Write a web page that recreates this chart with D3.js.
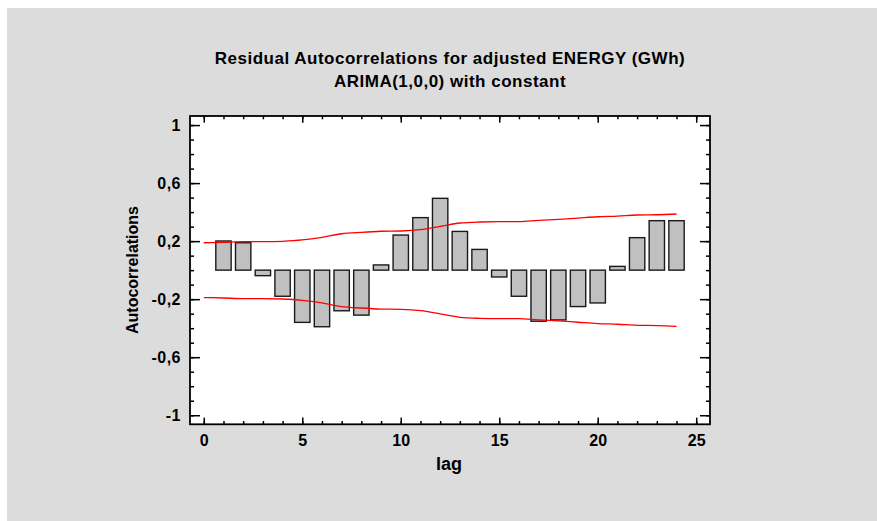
<!DOCTYPE html>
<html><head><meta charset="utf-8">
<script src="https://cdn.jsdelivr.net/npm/d3@7"></script>
<style>
html,body{margin:0;padding:0;background:#fff;}
svg{display:block;}
text{font-family:"Liberation Sans",Arial,sans-serif;font-weight:bold;fill:#000;}
</style></head>
<body>
<script>
const titleLines = ["Residual Autocorrelations for adjusted ENERGY (GWh)", "ARIMA(1,0,0) with constant"];
const xLabel = "lag";
const yLabel = "Autocorrelations";
const lags = [1,2,3,4,5,6,7,8,9,10,11,12,13,14,15,16,17,18,19,20,21,22,23,24];
const acf = [0.201,0.189,-0.038,-0.18,-0.36,-0.39,-0.28,-0.31,0.036,0.242,0.362,0.495,0.267,0.143,-0.047,-0.18,-0.352,-0.343,-0.251,-0.226,0.026,0.224,0.341,0.341];
const limitLags = [0,1,2,3,4,5,6,7,8,9,10,11,12,13,14,15,16,17,18,19,20,21,22,23,24];
const upperLimit = [0.189,0.192,0.196,0.196,0.199,0.208,0.226,0.251,0.261,0.268,0.270,0.279,0.301,0.325,0.332,0.334,0.334,0.343,0.350,0.359,0.368,0.373,0.380,0.382,0.387];
const xMajorTicks = [0,5,10,15,20,25];
const xMinorTicks = d3.range(0,26,1);
const yMajorTicks = [-1,-0.6,-0.2,0.2,0.6,1];
const yMinorTicks = d3.range(-10,11,1).map(d=>d/10);

const W = 877, H = 521;
const L = 190, R = 710, T = 116, B = 424.3;

const svg = d3.select("body").append("svg").attr("width",W).attr("height",H);
svg.append("rect").attr("x",7).attr("y",8).attr("width",W-7).attr("height",H-8).attr("fill","#dcdcdc");
svg.append("rect").attr("x",L).attr("y",T).attr("width",R-L).attr("height",B-T).attr("fill","#fff");

const x = d3.scaleLinear().domain([-0.7,25.7]).range([L,R]);
const y = d3.scaleLinear().domain([-1.0625,1.0625]).range([B,T]);
const fmt = d => String(d).replace(".",",");

// bars
const bw = x(0.78)-x(0);
svg.append("g").selectAll("rect").data(lags).join("rect")
  .attr("x",(d)=>x(d)-bw/2)
  .attr("width",bw)
  .attr("y",(d,i)=>y(Math.max(0,acf[i])))
  .attr("height",(d,i)=>Math.abs(y(acf[i])-y(0)))
  .attr("fill","#c0c0c0").attr("stroke","#1a1a1a").attr("stroke-width",1.4);

// limit lines
const line = d3.line().x((d,i)=>x(limitLags[i])).curve(d3.curveMonotoneX);
svg.append("path").attr("d", line.y((d,i)=>y(upperLimit[i]))(upperLimit))
  .attr("fill","none").attr("stroke","#ff0000").attr("stroke-width",1.3);
svg.append("path").attr("d", line.y((d,i)=>y(-upperLimit[i]))(upperLimit))
  .attr("fill","none").attr("stroke","#ff0000").attr("stroke-width",1.3);

function styleAxis(g){
  g.select(".domain").remove();
  g.selectAll(".tick line").attr("stroke","#000").attr("stroke-width",1.5);
}
function styleText(size, ls){
  return g=>g.selectAll("text").attr("font-size",size)
    .style("font-family",'"Liberation Sans",Arial,sans-serif').style("font-weight","bold")
    .style("letter-spacing",ls+"px");
}
// left
svg.append("g").attr("transform",`translate(${L},0)`)
  .call(d3.axisLeft(y).tickValues(yMinorTicks).tickSize(-4).tickFormat(""))
  .call(styleAxis);
svg.append("g").attr("transform",`translate(${L},0)`)
  .call(d3.axisLeft(y).tickValues(yMajorTicks).tickSize(-10).tickPadding(9).tickFormat(fmt))
  .call(styleAxis)
  .call(styleText(16,0.5));
// right
svg.append("g").attr("transform",`translate(${R},0)`)
  .call(d3.axisRight(y).tickValues(yMinorTicks).tickSize(-4).tickFormat(""))
  .call(styleAxis);
svg.append("g").attr("transform",`translate(${R},0)`)
  .call(d3.axisRight(y).tickValues(yMajorTicks).tickSize(-10).tickFormat(""))
  .call(styleAxis);
// bottom
svg.append("g").attr("transform",`translate(0,${B})`)
  .call(d3.axisBottom(x).tickValues(xMinorTicks).tickSize(-3.3).tickFormat(""))
  .call(styleAxis);
svg.append("g").attr("transform",`translate(0,${B})`)
  .call(d3.axisBottom(x).tickValues(xMajorTicks).tickSize(-6.7).tickPadding(10.5).tickFormat(fmt))
  .call(styleAxis)
  .call(styleText(16,0));
// top
svg.append("g").attr("transform",`translate(0,${T})`)
  .call(d3.axisTop(x).tickValues(xMinorTicks).tickSize(-3.3).tickFormat(""))
  .call(styleAxis);
svg.append("g").attr("transform",`translate(0,${T})`)
  .call(d3.axisTop(x).tickValues(xMajorTicks).tickSize(-6.7).tickFormat(""))
  .call(styleAxis);

// frame
svg.append("rect").attr("x",L).attr("y",T).attr("width",R-L).attr("height",B-T)
  .attr("fill","none").attr("stroke","#000").attr("stroke-width",1.8);

// titles
svg.append("text").attr("x",(L+R)/2).attr("y",64).attr("text-anchor","middle").attr("font-size",17)
  .style("letter-spacing","0.5px").text(titleLines[0]);
svg.append("text").attr("x",(L+R)/2).attr("y",86.5).attr("text-anchor","middle").attr("font-size",17)
  .style("letter-spacing","0.5px").text(titleLines[1]);
svg.append("text").attr("x",449).attr("y",470).attr("text-anchor","middle").attr("font-size",18).text(xLabel);
svg.append("text").attr("transform","translate(137.5,270) rotate(-90)").attr("text-anchor","middle").attr("font-size",16).text(yLabel);
</script>
</body></html>
